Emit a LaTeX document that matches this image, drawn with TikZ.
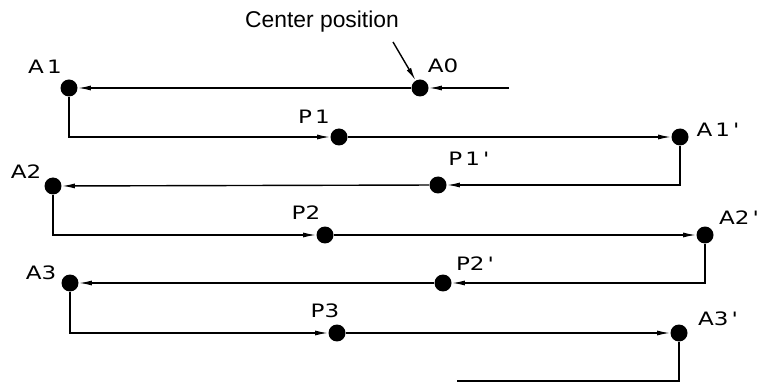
\documentclass[tikz,border=0pt]{standalone}
\usepackage{fontspec}
\setmainfont{Liberation Sans}
\newfontfamily\plotfont[FakeStretch=1.25]{DejaVu Sans}
\usetikzlibrary{arrows.meta}

\begin{document}
\begin{tikzpicture}[
    x=0.02cm, y=-0.02cm,
    dot/.style={circle, fill=black, inner sep=0pt, minimum size=0.34cm},
    lbl/.style={font=\plotfont\fontsize{10.5}{12}\selectfont, inner sep=0pt},
    line/.style={line width=0.8pt},
    arrow/.style={line width=0.8pt, -{Latex[length=2.6mm, width=1mm]}}
]
    \useasboundingbox (0,0) rectangle (759,384);

    % Points on the path
    \node[dot] (A0) at (420,88) {};
    \node[dot] (A1) at (69,88) {};
    \node[dot] (P1) at (339,137) {};
    \node[dot] (A1p) at (680,137) {};
    \node[dot] (P1p) at (438,185) {};
    \node[dot] (A2) at (53,186) {};
    \node[dot] (P2) at (325,235) {};
    \node[dot] (A2p) at (705,235) {};
    \node[dot] (P2p) at (443,283) {};
    \node[dot] (A3) at (70,283) {};
    \node[dot] (P3) at (337,333) {};
    \node[dot] (A3p) at (679,333) {};

    % Free ends
    \coordinate (start) at (509,88);
    \coordinate (stop) at (457,381);
    \coordinate (cptip) at (393,42);

    % Labels
    \node[font=\fontsize{13}{15}\selectfont, inner sep=0pt] (cp) at (322,22) {Center position};
    \node[lbl] (lA0) at (443,66) {A0};
    \node[lbl] (lA1) at (45,67) {A\,1};
    \node[lbl] (lP1) at (314,117) {P\,1};
    \node[lbl] (lA1p) at (718,130) {A\,1\,'};
    \node[lbl] (lP1p) at (469,159) {P\,1\,'};
    \node[lbl] (lA2) at (26,172) {A2};
    \node[lbl] (lP2) at (306,213) {P2};
    \node[lbl] (lA2p) at (739,218) {A2\,'};
    \node[lbl] (lP2p) at (475,264) {P2\,'};
    \node[lbl] (lA3) at (41,273) {A3};
    \node[lbl] (lP3) at (325,311) {P3};
    \node[lbl] (lA3p) at (718,319) {A3\,'};

    % Path
    \draw[arrow] (cptip) -- (A0);
    \draw[arrow] (start) -- (A0);
    \draw[arrow] (A0) -- (A1);
    \draw[arrow] (A1) |- (P1);
    \draw[arrow] (P1) -- (A1p);
    \draw[arrow] (A1p) |- (P1p);
    \draw[arrow] (P1p) -- (A2);
    \draw[arrow] (A2) |- (P2);
    \draw[arrow] (P2) -- (A2p);
    \draw[arrow] (A2p) |- (P2p);
    \draw[arrow] (P2p) -- (A3);
    \draw[arrow] (A3) |- (P3);
    \draw[arrow] (P3) -- (A3p);
    \draw[line] (A3p) |- (stop);
\end{tikzpicture}
\end{document}
